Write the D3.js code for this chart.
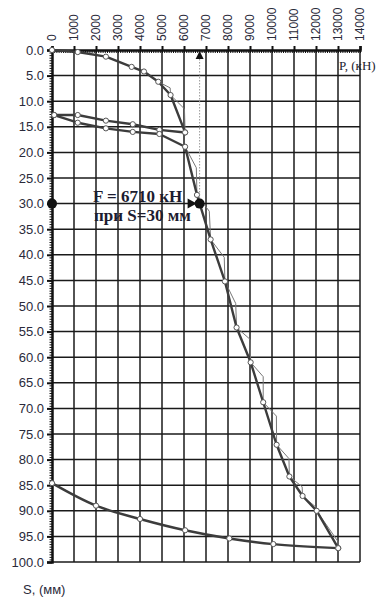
<!DOCTYPE html>
<html>
<head>
<meta charset="utf-8">
<script src="https://cdn.jsdelivr.net/npm/d3@7"></script>
<style>
body { margin: 0; background: #fff; }
svg { display: block; }
</style>
</head>
<body>
<svg width="386" height="598"></svg>
<script>
// top axis ticks (load, kN) and left axis ticks (settlement, mm)
const pTicks = d3.range(0, 14001, 1000);
const sTicks = d3.range(0, 100.1, 5);

// first loading
const load1P = [0, 1170, 2450, 3620, 4180, 4830, 5390, 6050];
const load1S = [0, 0.4, 1.3, 3.3, 4.2, 6.2, 8.8, 16.1];
// first unloading
const unload1P = [6050, 4880, 3670, 2450, 1170, 100];
const unload1S = [16.1, 15.6, 14.5, 13.8, 12.7, 12.7];
// reloading up to failure
const load2P = [100, 1170, 2450, 3670, 4880, 6050, 6590, 7210, 7860, 8390, 9030, 9600, 10210, 10790, 11390, 12030, 13010];
const load2S = [12.7, 14.2, 15.3, 16.0, 16.4, 18.9, 28.3, 37.0, 45.2, 54.2, 61.0, 68.8, 77.1, 83.3, 87.1, 90.0, 97.3];
// final unloading
const unload2P = [13010, 10060, 8060, 6050, 4000, 2000, 0];
const unload2S = [97.3, 96.5, 95.4, 93.8, 91.6, 89.0, 84.6];

// settlement right after each load increment (thin line)
const inst1P = [5370, 6020];
const inst1S = [7.4, 11.5];
const inst2P = [6560, 7150, 7830, 8350, 9000, 9600, 10200, 10770, 11370, 12000, 13000];
const inst2S = [23.0, 31.5, 40.5, 49.5, 56.5, 63.8, 71.5, 79.8, 85.3, 89.3, 96.0];

const fLoad = 6710, fS = 30;

const svg = d3.select('svg');
const x = d3.scaleLinear().domain([0, 14000]).range([52, 360]);
const y = d3.scaleLinear().domain([0, 100]).range([50, 562]);

// grid
svg.append('g').selectAll('line').data(pTicks.slice(1)).enter().append('line')
    .attr('x1', d => x(d)).attr('x2', d => x(d))
    .attr('y1', y(0)).attr('y2', y(100))
    .attr('stroke', '#1a1a1a').attr('stroke-width', 1.5);
svg.append('g').selectAll('line').data(sTicks.slice(1)).enter().append('line')
    .attr('x1', x(0)).attr('x2', x(14000))
    .attr('y1', d => y(d)).attr('y2', d => y(d))
    .attr('stroke', '#1a1a1a').attr('stroke-width', 1.5);

// top axis
const topAxis = svg.append('g').attr('transform', `translate(0,${y(0)})`);
topAxis.call(d3.axisTop(x).tickValues(d3.range(0, 14001, 100)).tickSize(-3).tickFormat(''))
    .call(g => g.select('.domain').remove())
    .selectAll('line').attr('stroke', '#111').attr('stroke-width', 1);
topAxis.append('g').call(d3.axisTop(x).tickValues(pTicks).tickSize(4).tickFormat(''))
    .call(g => g.select('.domain').attr('stroke', '#111').attr('stroke-width', 2.5))
    .selectAll('line').attr('stroke', '#111').attr('stroke-width', 2);
svg.append('g').selectAll('text').data(pTicks).enter().append('text')
    .attr('transform', d => `translate(${x(d)},41) rotate(-90)`)
    .attr('dy', '0.35em')
    .attr('font-family', 'Liberation Sans, Arial, sans-serif')
    .attr('font-size', 12).attr('fill', '#2a2a3a')
    .text(d => d);

// left axis
const leftAxis = svg.append('g').attr('transform', `translate(${x(0)},0)`);
leftAxis.call(d3.axisLeft(y).tickValues(d3.range(0, 100.1, 0.5)).tickSize(2.5).tickFormat(''))
    .call(g => g.select('.domain').remove())
    .selectAll('line').attr('stroke', '#111').attr('stroke-width', 1);
leftAxis.append('g').call(d3.axisLeft(y).tickValues(sTicks).tickSize(5).tickFormat(''))
    .call(g => g.select('.domain').attr('stroke', '#111').attr('stroke-width', 2.5))
    .selectAll('line').attr('stroke', '#111').attr('stroke-width', 2);
svg.append('g').selectAll('text').data(sTicks).enter().append('text')
    .attr('x', 44).attr('y', d => y(d)).attr('dy', '0.35em')
    .attr('text-anchor', 'end')
    .attr('font-family', 'Liberation Sans, Arial, sans-serif')
    .attr('font-size', 13).attr('fill', '#2a2a3a')
    .text(d => d.toFixed(1));

// thin staircase lines
const thinPath = (P, S, iP, iS, from) => {
    const pts = [[P[from], S[from]]];
    iP.forEach((p, i) => {
        pts.push([p, iS[i]]);
        pts.push([P[from + i + 1], S[from + i + 1]]);
    });
    return pts;
};
const line = d3.line().x(d => x(d[0])).y(d => y(d[1]));
const smooth = d3.line().x(d => x(d[0])).y(d => y(d[1])).curve(d3.curveCatmullRom.alpha(0.5));
const thin1 = thinPath(load1P, load1S, inst1P, inst1S, 5);
const thin2 = thinPath(load2P, load2S, inst2P, inst2S, 5);
[thin1, thin2].forEach(pts => {
    svg.append('path').attr('d', line(pts))
        .attr('fill', 'none').attr('stroke', '#777').attr('stroke-width', 1);
});

// main curves (final unloading drawn smooth)
const curves = [
    [load1P, load1S, line], [unload1P, unload1S, line], [load2P, load2S, line], [unload2P, unload2S, smooth]
];
curves.forEach(([P, S, gen]) => {
    const pts = P.map((p, i) => [p, S[i]]);
    svg.append('path').attr('d', gen(pts))
        .attr('fill', 'none').attr('stroke', '#3c3c3c').attr('stroke-width', 2.4)
        .attr('stroke-linejoin', 'round');
});
curves.forEach(([P, S]) => {
    svg.append('g').selectAll('circle').data(P.map((p, i) => [p, S[i]])).enter().append('circle')
        .attr('cx', d => x(d[0])).attr('cy', d => y(d[1])).attr('r', 2.6)
        .attr('fill', '#fff').attr('stroke', '#555').attr('stroke-width', 1);
});

// failure load marker
svg.append('line')
    .attr('x1', x(fLoad)).attr('x2', x(fLoad))
    .attr('y1', y(0) + 6).attr('y2', y(fS))
    .attr('stroke', '#999').attr('stroke-width', 1).attr('stroke-dasharray', '1.5,1.5');
svg.append('path')
    .attr('d', `M${x(fLoad)},${y(0) + 1}l-4,8h8z`).attr('fill', '#111');
svg.append('path')
    .attr('d', `M${x(fLoad) - 3},${y(fS)}l-9,-5v10z`).attr('fill', '#111');
svg.append('circle').attr('cx', x(fLoad)).attr('cy', y(fS)).attr('r', 5).attr('fill', '#111');
svg.append('circle').attr('cx', x(0)).attr('cy', y(fS)).attr('r', 5).attr('fill', '#111');

svg.append('text').attr('x', 93).attr('y', 202)
    .attr('font-family', 'Liberation Serif, Times New Roman, serif')
    .attr('font-size', 17).attr('font-weight', 'bold').attr('fill', '#1c1c30')
    .text('F = 6710 кН');
svg.append('text').attr('x', 94).attr('y', 221)
    .attr('font-family', 'Liberation Serif, Times New Roman, serif')
    .attr('font-size', 17).attr('font-weight', 'bold').attr('fill', '#1c1c30')
    .text('при S=30 мм');

svg.append('text').attr('x', 339).attr('y', 70)
    .attr('font-family', 'Liberation Serif, Times New Roman, serif')
    .attr('font-size', 13).attr('fill', '#1c1c30')
    .text('P, (кН)');
svg.append('text').attr('x', 23).attr('y', 594)
    .attr('font-family', 'Liberation Sans, Arial, sans-serif')
    .attr('font-size', 13).attr('fill', '#2a2a3a')
    .text('S, (мм)');
</script>
</body>
</html>
